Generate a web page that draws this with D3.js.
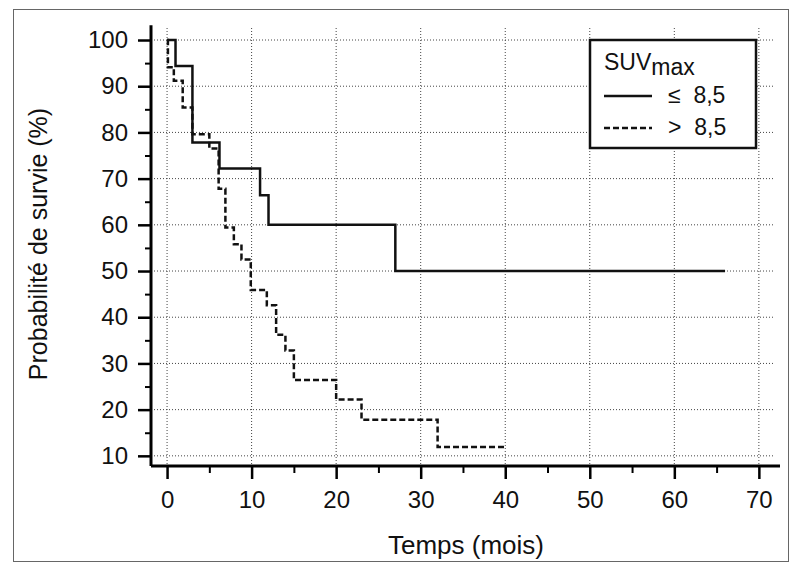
<!DOCTYPE html>
<html><head><meta charset="utf-8">
<script src="https://cdn.jsdelivr.net/npm/d3@7"></script>
<style>
html,body{margin:0;padding:0;background:#fff;}
svg{display:block;font-family:"Liberation Sans",Arial,sans-serif;}
</style></head>
<body><svg id="c" width="791" height="567"></svg>
<script>
// ---- data ----
const xTicks = [0, 10, 20, 30, 40, 50, 60, 70];
const xMinorTicks = [5, 15, 25, 35, 45, 55, 65];
const yTicks = [10, 20, 30, 40, 50, 60, 70, 80, 90, 100];
const yMinorTicks = [15, 25, 35, 45, 55, 65, 75, 85, 95];
// SUVmax <= 8,5 (solid)
const lowTimes = [0, 1, 3, 6.2, 11, 12, 27, 66];
const lowSurv  = [100, 94.4, 77.8, 72.2, 66.4, 60, 50, 50];
// SUVmax > 8,5 (dashed)
const highTimes = [0, 0.1, 0.8, 1.85, 3.0, 5.0, 6.1, 6.9, 7.9, 8.8, 9.9, 11.8, 12.9, 14.0, 15.0, 20.0, 23.0, 32.0, 40];
const highSurv  = [100, 94.1, 91.2, 85.4, 79.6, 76.5, 67.8, 59.4, 55.8, 52.5, 45.9, 42.6, 36.2, 32.8, 26.4, 22.2, 17.8, 11.9, 11.9];
const xTitle = "Temps (mois)";
const yTitle = "Probabilité de survie (%)";
const legendTitle = "SUV";
const legendSub = "max";
const legendLabels = ["≤ 8,5", "> 8,5"];

const svg = d3.select("#c");
const font = '"Liberation Sans", Arial, sans-serif';

// outer frame
svg.append("rect").attr("x", 13.5).attr("y", 9.5).attr("width", 775).attr("height", 552)
  .attr("fill", "#fff").attr("stroke", "#666").attr("stroke-width", 1);

const x = d3.scaleLinear().domain([-1.9, 72.5]).range([151, 780]);
const y = d3.scaleLinear().domain([7.8, 102.6]).range([466, 28]);

// grid
const grid = svg.append("g");
grid.selectAll("line.v").data(xTicks).join("line")
  .attr("x1", d => x(d)).attr("x2", d => x(d))
  .attr("y1", y(102.6)).attr("y2", y(7.8))
  .attr("stroke", "#444").attr("stroke-width", 1).attr("stroke-dasharray", "1,2");
grid.selectAll("line.h").data(yTicks).join("line")
  .attr("x1", x(-1.9)).attr("x2", x(71.8))
  .attr("y1", d => y(d)).attr("y2", d => y(d))
  .attr("stroke", "#444").attr("stroke-width", 1).attr("stroke-dasharray", "1,2");

// curves
const line = d3.line().x(d => x(d[0])).y(d => y(d[1])).curve(d3.curveStepAfter);
const lowData = lowTimes.map((t, i) => [t, lowSurv[i]]);
const highData = highTimes.map((t, i) => [t, highSurv[i]]);
svg.append("path").attr("d", line(highData)).attr("fill", "none")
  .attr("stroke", "#111").attr("stroke-width", 2.5).attr("stroke-dasharray", "6,3");
svg.append("path").attr("d", line(lowData)).attr("fill", "none")
  .attr("stroke", "#111").attr("stroke-width", 2.5);

// axes
function styleAxis(g) {
  g.select(".domain").attr("stroke", "#000").attr("stroke-width", 3);
  g.selectAll(".tick line").attr("stroke", "#000").attr("stroke-width", 2.5);
  g.selectAll("text").attr("font-family", font).attr("font-size", 24).attr("fill", "#111");
}
const yAxis = svg.append("g").attr("transform", `translate(${x(-1.9)},0)`)
  .call(d3.axisLeft(y).tickValues(yTicks).tickSize(13).tickPadding(10).tickSizeOuter(0));
styleAxis(yAxis);
yAxis.select(".domain").attr("d", `M0,${y(103.2)}V${y(7.8)}`);
const yMinor = svg.append("g").attr("transform", `translate(${x(-1.9)},0)`)
  .call(d3.axisLeft(y).tickValues(yMinorTicks).tickSize(6).tickFormat("").tickSizeOuter(0));
yMinor.select(".domain").remove();
yMinor.selectAll(".tick line").attr("stroke", "#000").attr("stroke-width", 2);

const xAxis = svg.append("g").attr("transform", `translate(0,${y(7.8)})`)
  .call(d3.axisBottom(x).tickValues(xTicks).tickSize(13).tickPadding(12).tickSizeOuter(0));
styleAxis(xAxis);
xAxis.select(".domain").attr("d", `M${x(-1.9)},0H${x(72.5)}`);
const xMinor = svg.append("g").attr("transform", `translate(0,${y(7.8)})`)
  .call(d3.axisBottom(x).tickValues(xMinorTicks).tickSize(7).tickFormat("").tickSizeOuter(0));
xMinor.select(".domain").remove();
xMinor.selectAll(".tick line").attr("stroke", "#000").attr("stroke-width", 2);

// titles
svg.append("text").attr("x", 466).attr("y", 554).attr("text-anchor", "middle")
  .attr("font-family", font).attr("font-size", 26).attr("fill", "#111").text(xTitle);
svg.append("text").attr("transform", "translate(47,244) rotate(-90)").attr("text-anchor", "middle")
  .attr("font-family", font).attr("font-size", 25).attr("fill", "#111").text(yTitle);

// legend
const lg = svg.append("g");
lg.append("rect").attr("x", 590).attr("y", 40).attr("width", 166).attr("height", 108)
  .attr("fill", "#fff").attr("stroke", "#111").attr("stroke-width", 2.5);
const lt = lg.append("text").attr("x", 604).attr("y", 70).attr("font-family", font)
  .attr("font-size", 23).attr("fill", "#111");
lt.append("tspan").text(legendTitle);
lt.append("tspan").attr("dy", 5).text(legendSub);
const rowsY = [96, 128];
legendLabels.forEach((lab, i) => {
  const l = lg.append("line").attr("x1", 604).attr("x2", 652).attr("y1", rowsY[i]).attr("y2", rowsY[i])
    .attr("stroke", "#111").attr("stroke-width", 2.5);
  if (i === 1) l.attr("stroke-dasharray", "6,3");
  lg.append("text").attr("x", 668).attr("y", rowsY[i] + 7).attr("font-family", font)
    .attr("font-size", 23).attr("fill", "#111").attr("xml:space", "preserve").text(lab.replace(" ", "  "));
});
</script></body></html>
